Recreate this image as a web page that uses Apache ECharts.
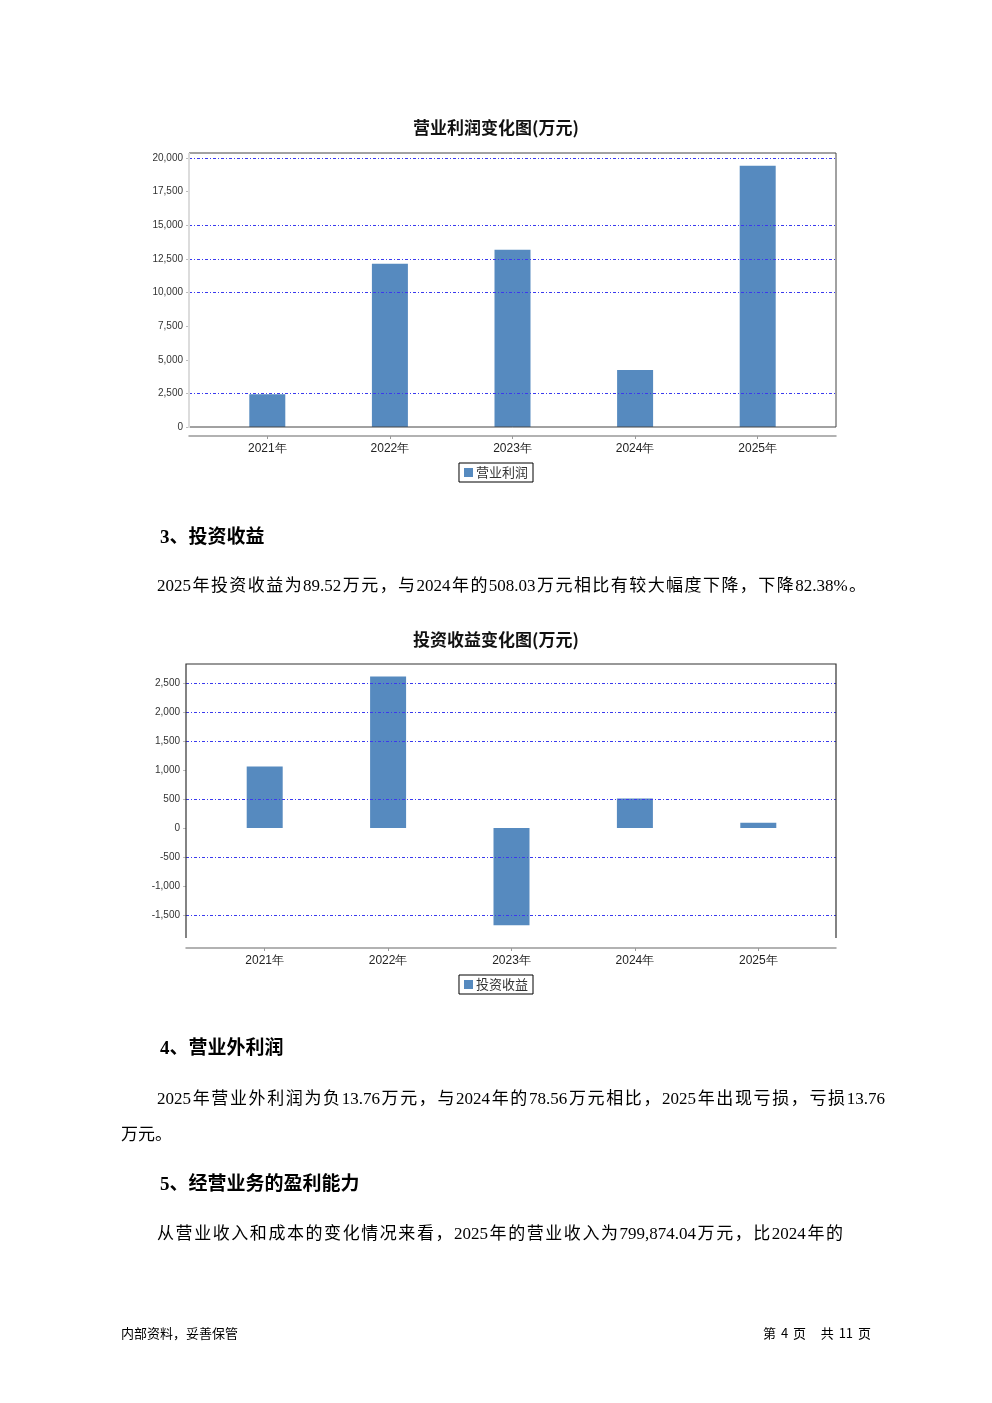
<!DOCTYPE html>
<html>
<head>
<meta charset="utf-8">
<script src="https://cdn.jsdelivr.net/npm/echarts@6/dist/echarts.min.js"></script>
<style>
  html, body { margin: 0; padding: 0; background: #fff; }
  #page { position: relative; width: 992px; height: 1403px; overflow: hidden; }
  #chart { position: absolute; left: 0; top: 0; width: 992px; height: 1403px; }
  .t { position: absolute; white-space: nowrap; color: #000; z-index: 2;
       font-family: "Liberation Serif", "Noto Sans CJK SC", serif; }
  .h { font-family: "Liberation Serif", "Noto Sans CJK SC", serif; font-weight: bold; font-size: 19px; line-height: 24px; }
  .p { font-size: 17px; line-height: 24px; }
  .j { text-align: justify; text-align-last: justify; white-space: normal; }
  .f { font-family: "Noto Sans CJK SC", sans-serif; font-size: 13px; line-height: 16px; }
</style>
</head>
<body>
<div id="page">
  <div id="chart"></div>
  <div class="t h" style="left:160px; top:525px;">3、投资收益</div>
  <div class="t p j" style="left:157px; top:574px; width:709px;">2025年投资收益为89.52万元，与2024年的508.03万元相比有较大幅度下降，下降82.38%。</div>
  <div class="t h" style="left:160px; top:1036px;">4、营业外利润</div>
  <div class="t p j" style="left:157px; top:1087px; width:728px;">2025年营业外利润为负13.76万元，与2024年的78.56万元相比，2025年出现亏损，亏损13.76</div>
  <div class="t p" style="left:121px; top:1123px;">万元。</div>
  <div class="t h" style="left:160px; top:1172px;">5、经营业务的盈利能力</div>
  <div class="t p j" style="left:157px; top:1222px; width:686px;">从营业收入和成本的变化情况来看，2025年的营业收入为799,874.04万元，比2024年的</div>
  <div class="t f" style="left:121px; top:1325px;">内部资料，妥善保管</div>
  <div class="t f" style="left:740px; top:1325px; width:131px; text-align:right; word-spacing:2px;">第 4 页 &nbsp; 共 11 页</div>
</div>
<script>
// ---- data ----
const years = ['2021年', '2022年', '2023年', '2024年', '2025年'];
const opProfitName = '营业利润';
const opProfit = [2430, 12130, 13170, 4240, 19430];
const opAxis = { min: 0, max: 20000, interval: 2500 };
const opGridLines = [20000, 15000, 12500, 10000, 2500];

const invName = '投资收益';
const invIncome = [1060, 2610, -1675, 508.03, 89.52];
const invAxis = { min: -1500, max: 2500, interval: 500 };
const invGridLines = [2500, 2000, 1500, 500, -500, -1500];

const chartTitles = ['营业利润变化图(万元)', '投资收益变化图(万元)'];

// ---- styles ----
const barColor = '#568abf';
const gridLineColor = '#3a3aee';
const labelFont = { fontFamily: 'Liberation Sans', fontSize: 10, color: '#333' };
const catFont = { fontFamily: 'Liberation Sans', fontSize: 12, color: '#222' };
const fmt = v => Number(v).toLocaleString('en-US');

const chart = echarts.init(document.getElementById('chart'), null, { renderer: 'canvas' });

function markLines(vals) {
  return {
    silent: true, symbol: 'none', label: { show: false },
    lineStyle: { color: gridLineColor, width: 1, type: [3, 2, 1, 2] },
    data: vals.map(v => ({ yAxis: v }))
  };
}

const titleStyle = { fontFamily: 'Noto Sans CJK SC', fontSize: 17, fontWeight: 'bold', color: '#111' };
const legendCommon = {
  left: 'center', orient: 'horizontal',
  borderColor: '#000', borderWidth: 1, padding: [3, 5], itemWidth: 9, itemHeight: 9, itemGap: 4,
  icon: 'rect', selectedMode: false,
  textStyle: { fontFamily: 'Noto Sans CJK SC', fontSize: 13, color: '#333', padding: [0, 0, 0, -2] }
};

const option = {
  animation: false,
  title: [
    { text: chartTitles[0], left: 'center', top: 119, padding: 0, textStyle: titleStyle },
    { text: chartTitles[1], left: 'center', top: 631, padding: 0, textStyle: titleStyle }
  ],
  legend: [
    Object.assign({ data: [opProfitName], top: 463 }, legendCommon),
    Object.assign({ data: [invName], top: 975 }, legendCommon)
  ],
  grid: [
    { left: 189, right: 156, top: 158, bottom: 976 },   // chart1 frame width
    { left: 206, right: 173, top: 158, bottom: 976 },   // chart1 bars
    { left: 186, right: 156, top: 683, bottom: 488 },   // chart2 frame width
    { left: 203, right: 172, top: 683, bottom: 488 }    // chart2 bars
  ],
  xAxis: [
    { gridIndex: 0, type: 'value', min: 0, max: 1, offset: 9,
      axisLine: { show: true, onZero: false, lineStyle: { color: '#999', width: 1.5 } },
      axisTick: { show: false }, axisLabel: { show: false }, splitLine: { show: false } },
    { gridIndex: 1, type: 'category', data: years, offset: 9,
      axisLine: { show: false, onZero: false },
      axisTick: { show: true, alignWithLabel: true, length: 3, lineStyle: { color: '#999' } },
      axisLabel: Object.assign({ margin: 7 }, catFont) },
    { gridIndex: 2, type: 'value', min: 0, max: 1, offset: 33,
      axisLine: { show: true, onZero: false, lineStyle: { color: '#999', width: 1.5 } },
      axisTick: { show: false }, axisLabel: { show: false }, splitLine: { show: false } },
    { gridIndex: 3, type: 'category', data: years, offset: 33,
      axisLine: { show: false, onZero: false },
      axisTick: { show: true, alignWithLabel: true, length: 3, lineStyle: { color: '#999' } },
      axisLabel: Object.assign({ margin: 7 }, catFont) }
  ],
  yAxis: [
    { gridIndex: 0, type: 'value', min: opAxis.min, max: opAxis.max, show: false },
    { gridIndex: 1, type: 'value', min: opAxis.min, max: opAxis.max, interval: opAxis.interval, offset: 17,
      axisLine: { show: false },
      axisTick: { show: true, length: 3, lineStyle: { color: '#bbb' } },
      axisLabel: Object.assign({ margin: 6, formatter: fmt }, labelFont),
      splitLine: { show: false } },
    { gridIndex: 2, type: 'value', min: invAxis.min, max: invAxis.max, show: false },
    { gridIndex: 3, type: 'value', min: invAxis.min, max: invAxis.max, interval: invAxis.interval, offset: 17,
      axisLine: { show: false },
      axisTick: { show: true, length: 3, lineStyle: { color: '#bbb' } },
      axisLabel: Object.assign({ margin: 6, formatter: fmt }, labelFont),
      splitLine: { show: false } }
  ],
  series: [
    { name: 'grid1', type: 'line', xAxisIndex: 0, yAxisIndex: 0, data: [], silent: true,
      markLine: markLines(opGridLines) },
    { name: opProfitName, type: 'bar', xAxisIndex: 1, yAxisIndex: 1, data: opProfit, clip: false,
      barWidth: 36, itemStyle: { color: barColor }, z: 3 },
    { name: 'grid2', type: 'line', xAxisIndex: 2, yAxisIndex: 2, data: [], silent: true,
      markLine: markLines(invGridLines) },
    { name: invName, type: 'bar', xAxisIndex: 3, yAxisIndex: 3, data: invIncome, clip: false,
      barWidth: 36, itemStyle: { color: barColor }, z: 3 }
  ],
  graphic: [
    // chart 1 frame
    { type: 'polyline', z: 50, silent: true,
      shape: { points: [[189, 153], [836, 153], [836, 427], [189, 427]] },
      style: { stroke: '#444', lineWidth: 1, fill: null } },
    { type: 'line', z: 50, silent: true,
      shape: { x1: 189, y1: 153, x2: 189, y2: 428 },
      style: { stroke: '#dcdcdc', lineWidth: 2 } },
    // chart 2 frame
    { type: 'polyline', z: 50, silent: true,
      shape: { points: [[186, 938], [186, 664], [836, 664], [836, 938]] },
      style: { stroke: '#333', lineWidth: 1.2, fill: null } }
  ]
};
chart.setOption(option);
</script>
</body>
</html>
